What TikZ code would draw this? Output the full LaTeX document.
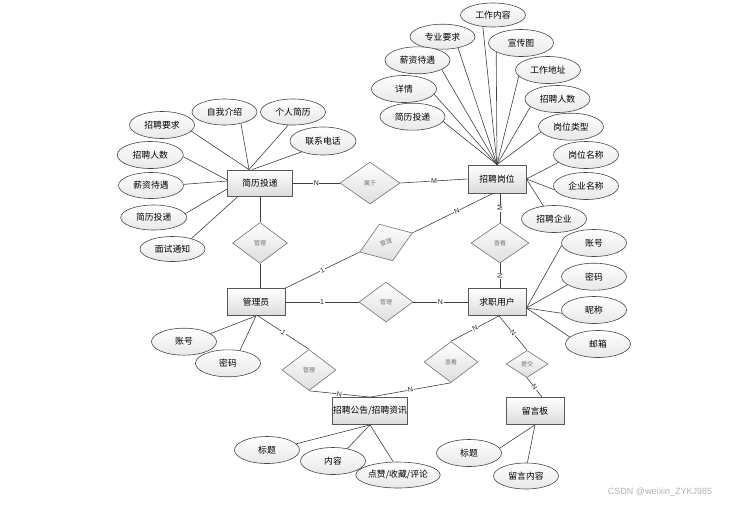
\documentclass[tikz,border=0pt]{standalone}
\usepackage{fontspec}
\setmainfont{Liberation Sans}
\newfontfamily\cjk{Noto Sans CJK SC}
\usetikzlibrary{shapes.geometric,calc}
\begin{document}
\begin{tikzpicture}[x=1pt,y=-1pt,
  ent/.style={draw=black!65, line width=0.8pt, top color=white, bottom color=black!14,
    minimum width=58pt, minimum height=27pt, inner sep=0pt, font=\cjk\fontsize{8.8}{10}\selectfont},
  attr/.style={ellipse, draw=black!72, line width=0.6pt, top color=white, bottom color=black!9,
    minimum width=65pt, minimum height=27pt, inner sep=0pt, font=\cjk\fontsize{8.8}{10}\selectfont},
  rel/.style={diamond, draw=black!55, line width=0.6pt, top color=white, bottom color=black!13,
    minimum width=55pt, minimum height=41pt, inner sep=0pt, text=black!55, font=\cjk\fontsize{6}{7}\selectfont},
  conn/.style={draw=black!75, line width=0.6pt},
  card/.style={fill=white, inner sep=0.6pt, text=black!85, font=\fontsize{7}{8}\selectfont}
]
\useasboundingbox (0,0) rectangle (747,504);

% entities
\node[ent, minimum width=65pt, minimum height=26pt] (jl) at (260,183) {简历投递};
\node[ent, minimum height=28pt] (gw) at (497,179) {招聘岗位};
\node[ent] (gly) at (256,302) {管理员};
\node[ent] (qz) at (497,302) {求职用户};
\node[ent, minimum width=75pt] (gg) at (370,411) {招聘公告/招聘资讯};
\node[ent] (lyb) at (535,411) {留言板};

% relationships
\node[rel, minimum width=60pt, minimum height=42pt] (sy) at (370,183) {属于};
\node[rel] (gl1) at (260,243) {管理};
\node[rel, rotate=20, minimum width=56pt, minimum height=39pt] (gl2) at (386,242.5) {管理};
\node[rel, minimum width=54pt, minimum height=40pt] (gl3) at (386,302) {管理};
\node[rel, minimum width=58pt, minimum height=40pt] (ck1) at (500,243) {查看};
\node[rel, minimum width=54pt] (gl4) at (309,370) {管理};
\node[rel, minimum width=54pt] (ck2) at (451,362) {查看};
\node[rel, minimum width=42pt, minimum height=27pt] (tj) at (527,364) {提交};

% attributes of 招聘岗位
\node[attr, minimum height=24pt] (a1) at (493,15) {工作内容};
\node[attr, minimum height=25pt] (a2) at (442.5,36.7) {专业要求};
\node[attr] (a3) at (521,43) {宣传图};
\node[attr] (a4) at (417.5,60.3) {薪资待遇};
\node[attr] (a5) at (548,70) {工作地址};
\node[attr] (a6) at (404,89) {详情};
\node[attr] (a7) at (557.5,99) {招聘人数};
\node[attr] (a8) at (412.5,116.7) {简历投递};
\node[attr] (a9) at (571,126.7) {岗位类型};
\node[attr] (a10) at (586,155) {岗位名称};
\node[attr] (a11) at (586,186) {企业名称};
\node[attr] (a12) at (554,219) {招聘企业};

% attributes of 简历投递
\node[attr] (b1) at (162,125) {招聘要求};
\node[attr, minimum height=26pt] (b2) at (224.5,112) {自我介绍};
\node[attr, minimum height=26pt] (b3) at (293,112) {个人简历};
\node[attr, minimum width=66pt, minimum height=28pt] (b4) at (323,141) {联系电话};
\node[attr, minimum width=66pt] (b5) at (150.3,155) {招聘人数};
\node[attr, minimum height=26pt] (b6) at (151,185.5) {薪资待遇};
\node[attr, minimum width=66pt, minimum height=25pt] (b7) at (153.7,217.5) {简历投递};
\node[attr, minimum height=25pt] (b8) at (172.5,249) {面试通知};

% attributes of 管理员
\node[attr] (c1) at (184,341.7) {账号};
\node[attr] (c2) at (228,363.3) {密码};

% attributes of 招聘公告/招聘资讯
\node[attr] (d1) at (267,450) {标题};
\node[attr] (d2) at (333,461) {内容};
\node[attr, minimum height=26pt] (d3) at (398,475) {点赞/收藏/评论};

% attributes of 求职用户
\node[attr] (e1) at (594,243) {账号};
\node[attr] (e2) at (594,276.7) {密码};
\node[attr] (e3) at (594,310) {昵称};
\node[attr] (e4) at (598,344) {邮箱};

% attributes of 留言板
\node[attr] (f1) at (469,453) {标题};
\node[attr, minimum height=26pt] (f2) at (526,476) {留言内容};

% attribute connectors
\draw[conn] (a1.229) -- (gw.north);
\draw[conn] (a2.324) -- (gw.north);
\draw[conn] (a3.200) -- (gw.north);
\draw[conn] (a4.339) -- (gw.north);
\draw[conn] (a5.192) -- (gw.north);
\draw[conn] (a6.350) -- (gw.north);
\draw[conn] (a7.196) -- (gw.north);
\draw[conn] (a8.351) -- (gw.north);
\draw[conn] (a9.190) -- (gw.north);
\draw[conn] (a10.195) -- (gw.east);
\draw[conn] (a11.187) -- (gw.east);
\draw[conn] (a12.129) -- (gw.east);

\draw[conn] (b1.348) -- ($(jl.north)+(-11,0)$);
\draw[conn] (b2.325) -- ($(jl.north)+(-11,0)$);
\draw[conn] (b3.250) -- ($(jl.north)+(-11,0)$);
\draw[conn] (b4.207) -- ($(jl.north)+(-8,0)$);
\draw[conn] (b5.357) -- ($(jl.west)+(0,-3)$);
\draw[conn] (b6.2) -- ($(jl.west)+(0,-2)$);
\draw[conn] (b7.7) -- ($(jl.west)+(0,6)$);
\draw[conn] (b8.29) -- ($(jl.south)+(-22,0)$);

\draw[conn] (c1.17) -- (gly.south);
\draw[conn] (c2.47) -- (gly.south);

\draw[conn] (d1.12) -- (gg.south);
\draw[conn] (d2.41) -- (gg.south);
\draw[conn] (d3.110) -- (gg.south);

\draw[conn] (e1.184) -- ($(qz.east)+(0,6)$);
\draw[conn] (e2.197) -- ($(qz.east)+(0,6)$);
\draw[conn] (e3.186) -- ($(qz.east)+(0,6)$);
\draw[conn] (e4.166) -- ($(qz.east)+(0,6)$);

\draw[conn] (f1.9) -- (lyb.south);
\draw[conn] (f2.84) -- (lyb.south);

% relationship connectors
\draw[conn] (jl.east) -- node[card]{N} (sy.west);
\draw[conn] (sy.east) -- node[card]{M} (gw.west);
\draw[conn] (jl.south) -- (gl1.north);
\draw[conn] (gl1.south) -- (gl1.south |- gly.north);
\draw[conn] (gly.north east) -- node[card, sloped]{1} (gl2.west);
\draw[conn] (gl2.east) -- node[card, sloped, pos=0.55]{N} ($(gw.south)+(-4,0)$);
\draw[conn] (gly.east) -- node[card]{1} (gl3.west);
\draw[conn] (gl3.east) -- node[card]{N} (qz.west);
\draw[conn] (ck1.north |- gw.south) -- node[card, rotate=90]{M} (ck1.north);
\draw[conn] (ck1.south) -- node[card, rotate=90]{N} (ck1.south |- qz.north);
\draw[conn] ($(gly.south)+(2,0)$) -- node[card, sloped]{1} (gl4.north);
\draw[conn] (gl4.south) -- node[card, sloped]{N} (gg.north);
\draw[conn] ($(qz.south)+(2,0)$) -- node[card, sloped]{N} (ck2.north);
\draw[conn] (ck2.south) -- node[card, sloped]{N} (gg.north);
\draw[conn] ($(qz.south)+(2,0)$) -- node[card, sloped]{N} (tj.north);
\draw[conn] (tj.south) -- node[card, sloped]{N} ($(lyb.north)+(7,0)$);

% watermark
\node[text=black!30, font=\fontsize{9}{10}\selectfont] (wm) at (660,492) {CSDN @weixin\_ZYKJ985};
\end{tikzpicture}
\end{document}
